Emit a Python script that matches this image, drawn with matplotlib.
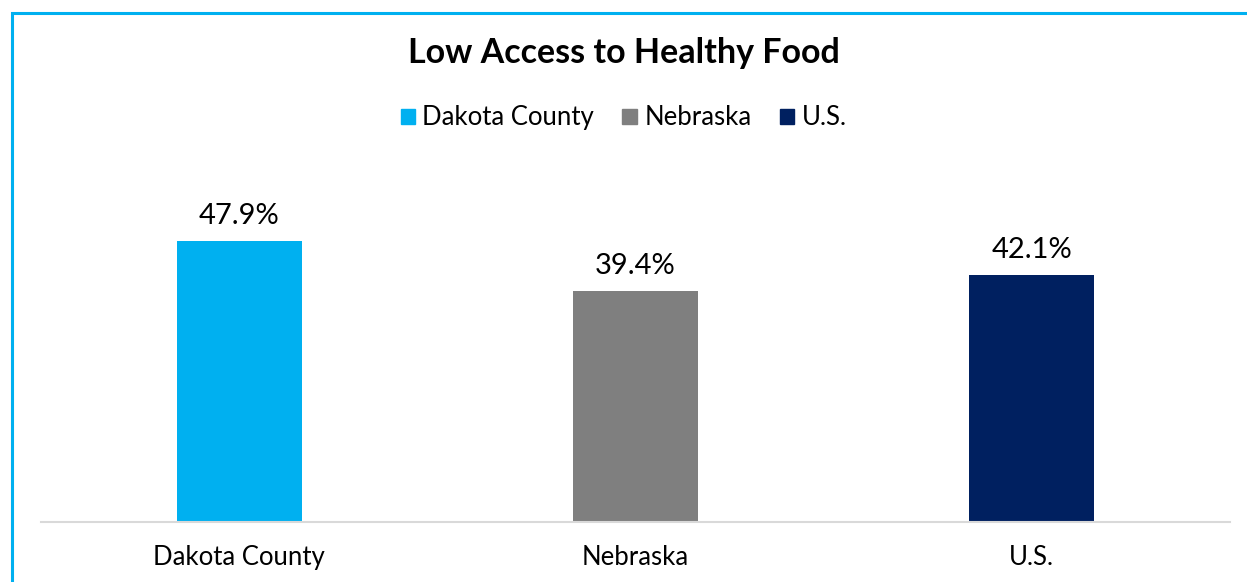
import matplotlib.pyplot as plt
import matplotlib.patches as mpatches

categories = ['Dakota County', 'Nebraska', 'U.S.']
values = [47.9, 39.4, 42.1]
colors = ['#00B0F0', '#7F7F7F', '#002060']

plt.rcParams['font.family'] = ['Lato', 'DejaVu Sans']

W, H = 1247, 582
fig = plt.figure(figsize=(W / 100, H / 100), dpi=100)
ax = fig.add_axes([41 / W, 1 - 521.5 / H, (1230 - 41) / W, (521.5 - 170) / H])

x = range(len(categories))
bars = ax.bar(x, values, width=0.315, color=colors, zorder=2)

for b, v in zip(bars, values):
    ax.annotate(f'{v:.1f}%', (b.get_x() + b.get_width() / 2, v),
                xytext=(0, 8.5), textcoords='offset points',
                ha='center', va='bottom', fontsize=21, color='#000000')

ax.set_xlim(-0.5, 2.5)
ax.set_ylim(0, 60)
ax.set_xticks(list(x))
ax.set_xticklabels(categories, fontsize=18.5)
ax.tick_params(axis='x', length=0, pad=17)
ax.set_yticks([])
for s in ['left', 'right', 'top']:
    ax.spines[s].set_visible(False)
ax.spines['bottom'].set_color('#D9D9D9')
ax.spines['bottom'].set_linewidth(1.5)

fig.text(0.5, 1 - 53 / H, 'Low Access to Healthy Food', ha='center', va='center',
         fontsize=24.5, fontweight='bold')

handles = [mpatches.Patch(color=c, label=l) for c, l in zip(colors, categories)]
fig.legend(handles=handles, loc='center', bbox_to_anchor=(0.5, 1 - 118 / H),
           ncol=3, frameon=False, fontsize=18.5, handlelength=0.55, handleheight=0.55,
           handletextpad=0.3, columnspacing=1.1)

# light blue frame that runs off the right and bottom edges
frame = mpatches.Rectangle((12 / W, -0.05), 1.1, 1 - 13 / H + 0.05,
                           transform=fig.transFigure, fill=False,
                           edgecolor='#00B0F0', linewidth=2.2)
fig.patches.append(frame)

fig.savefig('out.png', dpi=100)
